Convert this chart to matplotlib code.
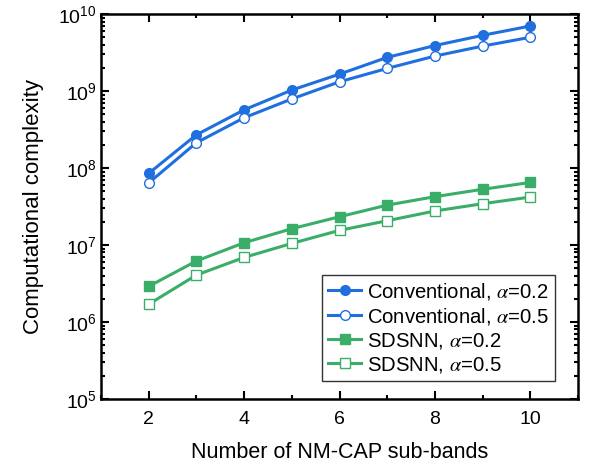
import matplotlib
matplotlib.use("Agg")
import matplotlib.pyplot as plt
from matplotlib.ticker import LogLocator, MultipleLocator, NullFormatter

plt.rcParams['font.family'] = ['Liberation Sans', 'DejaVu Sans']
plt.rcParams['mathtext.fontset'] = 'stix'

# --------------- [Data] --------------- #
sub_bands = [2, 3, 4, 5, 6, 7, 8, 9, 10]
conv_02 = [8.5e7, 2.7e8, 5.7e8, 1.03e9, 1.66e9, 2.74e9, 3.9e9, 5.3e9, 7.0e9]
conv_05 = [6.4e7, 2.13e8, 4.5e8, 7.9e8, 1.32e9, 1.97e9, 2.85e9, 3.84e9, 5.0e9]
sdsnn_02 = [2.9e6, 6.2e6, 1.07e7, 1.63e7, 2.33e7, 3.3e7, 4.25e7, 5.3e7, 6.5e7]
sdsnn_05 = [1.7e6, 4.07e6, 6.9e6, 1.05e7, 1.55e7, 2.07e7, 2.77e7, 3.44e7, 4.2e7]

blue = '#1f6fdf'
green = '#3aae68'

# --------------- [Plot] --------------- #
fig = plt.figure(figsize=(5.9, 4.66), dpi=100)
ax = fig.add_axes([0.171, 0.1438, 0.809, 0.826])

lw = 2.2
ms = 7
ax.plot(sub_bands, conv_02, color=blue, lw=lw, marker='o', ms=ms,
        label='Conventional, $\\alpha$=0.2')
ax.plot(sub_bands, conv_05, color=blue, lw=lw, marker='o', ms=ms,
        mfc='white', mew=1.0, label='Conventional, $\\alpha$=0.5')
ax.plot(sub_bands, sdsnn_02, color=green, lw=lw, marker='s', ms=ms - 0.5,
        label='SDSNN, $\\alpha$=0.2')
ax.plot(sub_bands, sdsnn_05, color=green, lw=lw, marker='s', ms=ms - 0.5,
        mfc='white', mew=1.0, label='SDSNN, $\\alpha$=0.5')

ax.set_yscale('log')
ax.set_ylim(1e5, 1e10)
ax.set_xlim(1, 11)
ax.xaxis.set_major_locator(MultipleLocator(2))
ax.xaxis.set_minor_locator(MultipleLocator(1))
ax.yaxis.set_major_locator(LogLocator(base=10, numticks=10))
ax.yaxis.set_minor_locator(LogLocator(base=10, subs=range(2, 10), numticks=20))
ax.yaxis.set_minor_formatter(NullFormatter())

ax.tick_params(which='both', direction='in', top=True, right=True, width=1.5)
ax.tick_params(which='major', length=6, labelsize=14)
ax.tick_params(which='minor', length=3)
ax.tick_params(axis='x', which='major', pad=9)
ax.tick_params(axis='y', which='major', pad=3)
for s in ax.spines.values():
    s.set_linewidth(1.8)

ax.set_xlabel('Number of NM-CAP sub-bands', fontsize=15.5, labelpad=10)
ax.set_ylabel('Computational complexity', fontsize=16, labelpad=10)

leg = ax.legend(loc='lower right', bbox_to_anchor=(0.952, 0.047), fontsize=14.6,
                fancybox=False, edgecolor='black', handlelength=1.65,
                handletextpad=0.3, borderpad=0.3, labelspacing=0.2,
                borderaxespad=0)
leg.get_frame().set_linewidth(1.0)

fig.savefig('out.png', dpi=100)
